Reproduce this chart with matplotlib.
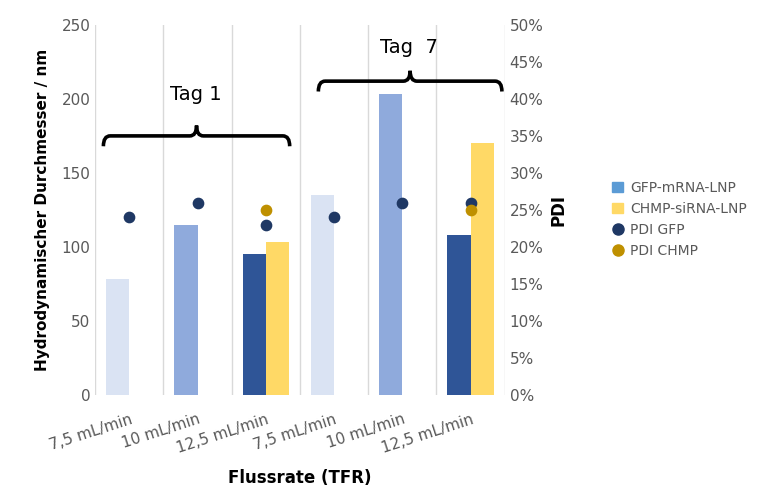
import matplotlib
matplotlib.use("Agg")
import matplotlib.pyplot as plt
from matplotlib.path import Path
from matplotlib.patches import PathPatch
import numpy as np

categories = ["7,5 mL/min", "10 mL/min", "12,5 mL/min", "7,5 mL/min", "10 mL/min", "12,5 mL/min"]
gfp_size = [78, 115, 95, 135, 203, 108]
chmp_size = [np.nan, np.nan, 103, np.nan, np.nan, 170]
pdi_gfp = [0.24, 0.26, 0.23, 0.24, 0.26, 0.26]
pdi_chmp = [np.nan, np.nan, 0.25, np.nan, np.nan, 0.25]
gfp_colors = ["#dae3f3", "#8faadc", "#2f5597", "#dae3f3", "#8faadc", "#2f5597"]

plt.rcParams['font.family'] = ['DejaVu Sans']
fig = plt.figure(figsize=(7.74, 4.98), dpi=100)
ax = fig.add_axes([0.123, 0.207, 0.529, 0.743])
x = np.arange(len(categories))
w = 0.34
ax.bar(x - w/2, gfp_size, w, color=gfp_colors, zorder=2)
ax.bar(x + w/2, chmp_size, w, color="#ffd966", zorder=2)
ax.set_xlim(-0.5, 5.5)
ax.set_ylim(0, 250)
ax.set_yticks(range(0, 251, 50))
ax.set_xticks(x)
ax.set_xticklabels(categories, rotation=18, ha="right", rotation_mode="anchor",
                   color="#595959", fontsize=11)
for b in np.arange(-0.5, 6, 1):
    ax.axvline(b, color="#d9d9d9", lw=1, zorder=0)
for s in ax.spines.values():
    s.set_visible(False)
ax.tick_params(length=0, colors="#595959", labelsize=11)
ax.tick_params(axis="x", pad=12)
ax.set_ylabel("Hydrodynamischer Durchmesser / nm", fontweight="bold", fontsize=11, labelpad=8)
ax.set_xlabel("Flussrate (TFR)", fontweight="bold", fontsize=12, labelpad=10)

ax2 = ax.twinx()
ax2.set_ylim(0, 0.5)
ax2.set_yticks(np.arange(0, 0.51, 0.05))
ax2.set_yticklabels([f"{int(round(v*100))}%" for v in np.arange(0, 0.51, 0.05)])
ax2.tick_params(length=0, colors="#595959", labelsize=11)
for s in ax2.spines.values():
    s.set_visible(False)
ax2.scatter(x, pdi_gfp, s=55, color="#1f3864", zorder=3)
ax2.scatter(x, pdi_chmp, s=55, color="#bf9000", zorder=4)
ax2.set_ylabel("PDI", fontweight="bold", fontsize=12)

def brace(x0, x1, y0, h):
    xm = (x0 + x1) / 2
    verts = [(x0, y0 - h), (x0, y0), (x0 + 0.1, y0),
             (xm - 0.1, y0), (xm, y0), (xm, y0 + h),
             (xm, y0), (xm + 0.1, y0),
             (x1 - 0.1, y0), (x1, y0), (x1, y0 - h)]
    codes = [Path.MOVETO, Path.CURVE3, Path.CURVE3,
             Path.LINETO, Path.CURVE3, Path.CURVE3,
             Path.CURVE3, Path.CURVE3,
             Path.LINETO, Path.CURVE3, Path.CURVE3]
    ax.add_patch(PathPatch(Path(verts, codes), fill=False, lw=2.6, color="black", zorder=5, clip_on=False))

brace(-0.38, 2.35, 175, 7)
ax.text(0.98, 203, "Tag 1", ha="center", va="center", fontsize=14)
brace(2.77, 5.46, 212, 7)
ax.text(4.1, 235, "Tag  7", ha="center", va="center", fontsize=14)

from matplotlib.patches import Patch
from matplotlib.lines import Line2D
handles = [Patch(color="#5b9bd5"), Patch(color="#ffd966"),
           Line2D([], [], marker="o", ls="", color="#1f3864", markersize=8),
           Line2D([], [], marker="o", ls="", color="#bf9000", markersize=8)]
fig.legend(handles, ["GFP-mRNA-LNP", "CHMP-siRNA-LNP", "PDI GFP", "PDI CHMP"],
           loc="center left", bbox_to_anchor=(0.775, 0.56), frameon=False,
           fontsize=10, labelcolor="#595959", handlelength=0.8, handletextpad=0.5)
fig.savefig("out.png", dpi=100)
